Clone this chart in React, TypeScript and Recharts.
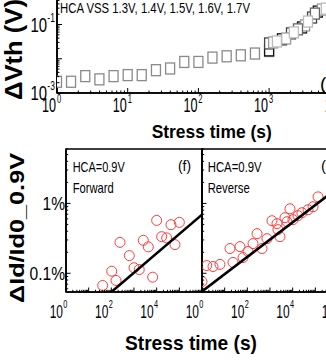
import React from 'react';
import { ScatterChart, Scatter, XAxis, YAxis, ReferenceArea } from 'recharts';

// ---------- Top panel (a): ΔVth vs stress time ----------
const TOP_T = [1, 1.58, 2.51, 3.98, 6.31, 10, 15.8, 25.1, 39.8, 63.1, 100, 158, 251, 398, 631, 1000];
const TOP_V = [0.00213, 0.00213, 0.00311, 0.0025, 0.00311, 0.00333, 0.00333, 0.00464, 0.0052, 0.00807, 0.00807, 0.0108, 0.0118, 0.0126, 0.0142, 0.0168];
const VSS2_T = [1000, 2040, 4050];
const VSS2_V = [0.028, 0.055, 0.16];
const VSS3_T = [1000, 1520, 2920, 4890];
const VSS3_V = [0.0176, 0.037, 0.082, 0.238];
const VSS4_T = [1140, 1740, 3230, 5580];
const VSS4_V = [0.03, 0.039, 0.094, 0.272];
const VSS5_T = [1290, 2240, 3550, 6350];
const VSS5_V = [0.032, 0.059, 0.122, 0.291];
const VSS6_T = [2560, 4450];
const VSS6_V = [0.072, 0.208];

const TOP_X_TICKS = [1, 10, 100, 1000, 10000];
const TOP_X_EXP = ['0', '1', '2', '3', '4'];
const TOP_Y_TICKS = [0.001, 0.1];
const TOP_Y_EXP = ['-3', '-1'];

// ---------- Bottom panels (f) forward, (g) reverse ----------
const F_T = [10000, 100000, 42700, 16600, 27600, 64300, 241, 2570, 4270, 620, 1000, 1700, 104, 161, 41.5, 6660];
const F_V = [0.571, 0.535, 0.496, 0.334, 0.321, 0.257, 0.277, 0.296, 0.239, 0.179, 0.12, 0.113, 0.107, 0.079, 0.067, 0.088];
const FIT_F_T = [107, 1000000];
const FIT_F_V = [0.055, 0.69];

const G_T = [1.61, 3.06, 6.2, 23.3, 1, 17.2, 47.4, 107, 64.4, 178, 268, 443, 735, 1220, 2030, 2250, 2760, 4580, 5630, 7600, 10300, 17100, 25700, 47600, 79000, 132000];
const G_V = [0.129, 0.125, 0.134, 0.143, 0.076, 0.226, 0.241, 0.205, 0.168, 0.266, 0.369, 0.226, 0.313, 0.565, 0.513, 0.421, 0.334, 0.624, 0.547, 0.837, 0.585, 0.667, 0.735, 0.811, 0.895, 1.24];
const FIT_G_T = [1, 1000000];
const FIT_G_V = [0.055, 1.68];

const F_X_TICKS = [1, 100, 10000];
const F_X_EXP = ['0', '2', '4'];
const G_X_TICKS = [1, 100, 10000, 1000000];
const G_X_EXP = ['0', '2', '4', '6'];
const BOT_Y_TICKS = [0.1, 1];
const BOT_Y_LABELS = ['0.1%', '1%'];

const FONT = "'Liberation Sans', Arial, sans-serif";

const zip = (t: number[], v: number[]) => t.map((x, i) => ({ t: x, v: v[i] }));

const logTicks = (lo: number, hi: number) => {
  const out: number[] = [];
  for (let e = Math.floor(Math.log10(lo) + 1e-9); e <= Math.ceil(Math.log10(hi) - 1e-9); e++) {
    for (let m = 1; m < 10; m++) {
      const val = m * Math.pow(10, e);
      if (val >= lo * 0.9999 && val <= hi * 1.0001) out.push(val);
    }
  }
  return out;
};
const isMajor = (v: number) => {
  const e = Math.log10(v);
  return Math.abs(e - Math.round(e)) < 1e-6;
};
const findIdx = (arr: number[], v: number) =>
  arr.findIndex((a) => Math.abs(Math.log10(a) - Math.log10(v)) < 1e-6);

// power-of-ten label drawn as one narrow text: "10" ending at local x=0, exponent after it
const PowLabel = (p: {
  x: number; y: number; sx: number; size: number; supSize: number; supDy: number; supDx: number; exp: string;
}) => (
  <text
    transform={`translate(${p.x},${p.y}) scale(${p.sx},1)`}
    fontFamily={FONT}
    fill="#000"
    fontSize={p.size}
  >
    <tspan x={0} y={0} textAnchor="end">10</tspan>
    <tspan x={p.supDx} y={p.supDy} fontSize={p.supSize} textAnchor="start">{p.exp}</tspan>
  </text>
);

const TopXTick = (props: any) => {
  const { x, y, payload } = props;
  const v = payload.value;
  const idx = findIdx(TOP_X_TICKS, v);
  return (
    <g>
      <line x1={x} x2={x} y1={y} y2={y - (isMajor(v) ? 5 : 2.5)} stroke="#000" strokeWidth={1} />
      {idx >= 0 && (
        <PowLabel x={x - 1} y={y + 19} sx={0.63} size={20} supSize={12} supDy={-9} supDx={1.5} exp={TOP_X_EXP[idx]} />
      )}
    </g>
  );
};

const TopYTick = (props: any) => {
  const { x, y, payload } = props;
  const v = payload.value;
  const idx = findIdx(TOP_Y_TICKS, v);
  return (
    <g>
      <line x1={x} x2={x + (isMajor(v) ? 5 : 2.5)} y1={y} y2={y} stroke="#000" strokeWidth={1} />
      {idx >= 0 && (
        <PowLabel x={x - 10} y={y + 7} sx={0.71} size={21} supSize={12} supDy={-10} supDx={0.5} exp={TOP_Y_EXP[idx]} />
      )}
    </g>
  );
};

const makeBotXTick = (ticks: number[], exps: string[]) => (props: any) => {
  const { x, y, payload } = props;
  const v = payload.value;
  const idx = findIdx(ticks, v);
  return (
    <g>
      <line x1={x} x2={x} y1={y} y2={y - (isMajor(v) ? 4.5 : 2.2)} stroke="#000" strokeWidth={1} />
      {idx >= 0 && (
        <PowLabel x={x - 3} y={y + 26} sx={0.665} size={18} supSize={11} supDy={-10} supDx={0.5} exp={exps[idx]} />
      )}
    </g>
  );
};

const makeBotYTick = (withLabels: boolean) => (props: any) => {
  const { x, y, payload } = props;
  const v = payload.value;
  const idx = withLabels ? findIdx(BOT_Y_TICKS, v) : -1;
  const label = idx >= 0 ? BOT_Y_LABELS[idx] : '';
  return (
    <g>
      <line x1={x} x2={x + (isMajor(v) ? 4.5 : 2.2)} y1={y} y2={y} stroke="#000" strokeWidth={1} />
      {idx >= 0 && (
        <text
          transform={`translate(${x - 1},${y + 6.5}) scale(0.82,1)`}
          textAnchor="end"
          fontFamily={FONT}
          fontSize={19}
          fill="#000"
        >
          {label}
        </text>
      )}
    </g>
  );
};

const squareShape = (color: string) => (p: any) => (
  <rect x={p.cx - 4.5} y={p.cy - 5.5} width={9} height={11} fill="#fff" stroke={color} strokeWidth={1.3} />
);
const circleShape = (p: any) => (
  <circle cx={p.cx} cy={p.cy} r={5} fill="none" stroke="#ff3a3a" strokeWidth={1} />
);
const noShape = () => <g />;

const botXTickF = makeBotXTick(F_X_TICKS, F_X_EXP);
const botXTickG = makeBotXTick(G_X_TICKS, G_X_EXP);
const botYTickF = makeBotYTick(true);
const botYTickG = makeBotYTick(false);

const topXAll = logTicks(1, 10000);
const topYAll = logTicks(0.001, 1);
const botXAll = logTicks(1, 1000000);
const botYAll = logTicks(0.06, 6);

export default function App() {
  return (
    <div
      style={{
        position: 'absolute',
        left: 0,
        top: 0,
        width: 326,
        height: 360,
        overflow: 'hidden',
        background: '#fff',
      }}
    >
      {/* Top panel */}
      <div style={{ position: 'absolute', left: 0, top: -20 }}>
        <ScatterChart width={360} height={170} margin={{ top: 10.25, right: 20.2, bottom: 0, left: 0 }}>
          <XAxis
            type="number"
            dataKey="t"
            scale="log"
            domain={[1, 10000]}
            ticks={topXAll}
            interval={0}
            tickSize={0}
            tickMargin={0}
            tickLine={false}
            axisLine={{ stroke: '#000', strokeWidth: 1.6 }}
            tick={TopXTick}
            height={57}
            allowDataOverflow
          />
          <YAxis
            type="number"
            dataKey="v"
            scale="log"
            domain={[0.001, 1]}
            ticks={topYAll}
            interval={0}
            tickSize={0}
            tickMargin={0}
            tickLine={false}
            axisLine={{ stroke: '#000', strokeWidth: 1.6 }}
            tick={TopYTick}
            width={57}
            allowDataOverflow
          />
          <ReferenceArea x1={1} x2={10000} y1={0.001} y2={1} fill="none" stroke="#000" strokeWidth={1.6} ifOverflow="visible" />
          <Scatter data={zip(TOP_T, TOP_V)} shape={squareShape('#8a8a8a')} isAnimationActive={false} />
          <Scatter data={zip(VSS3_T, VSS3_V)} shape={squareShape('#111')} isAnimationActive={false} />
          <Scatter data={zip(VSS2_T, VSS2_V)} shape={squareShape('#444')} isAnimationActive={false} />
          <Scatter data={zip(VSS4_T, VSS4_V)} shape={squareShape('#999')} isAnimationActive={false} />
          <Scatter data={zip(VSS6_T, VSS6_V)} shape={squareShape('#666')} isAnimationActive={false} />
          <Scatter data={zip(VSS5_T, VSS5_V)} shape={squareShape('#bbb')} isAnimationActive={false} />
        </ScatterChart>
      </div>

      {/* Bottom-left panel (f) */}
      <div style={{ position: 'absolute', left: 0, top: 140 }}>
        <ScatterChart width={210} height={220} margin={{ top: 9, right: 8, bottom: 0, left: 0 }}>
          <XAxis
            type="number"
            dataKey="t"
            scale="log"
            domain={[1, 1000000]}
            ticks={botXAll}
            interval={0}
            tickSize={0}
            tickMargin={0}
            tickLine={false}
            axisLine={{ stroke: '#000', strokeWidth: 1.6 }}
            tick={botXTickF}
            height={68}
            allowDataOverflow
          />
          <YAxis
            type="number"
            dataKey="v"
            scale="log"
            domain={[0.054, 6]}
            ticks={botYAll}
            interval={0}
            tickSize={0}
            tickMargin={0}
            tickLine={false}
            axisLine={{ stroke: '#000', strokeWidth: 1.6 }}
            tick={botYTickF}
            width={66}
            allowDataOverflow
          />
          <ReferenceArea x1={1} x2={1000000} y1={0.054} y2={6} fill="none" stroke="#000" strokeWidth={1.6} ifOverflow="visible" />
          <Scatter data={zip(F_T, F_V)} shape={circleShape} isAnimationActive={false} />
          <Scatter
            data={zip(FIT_F_T, FIT_F_V)}
            shape={noShape}
            line={{ stroke: '#000', strokeWidth: 2.6 }}
            isAnimationActive={false}
          />
        </ScatterChart>
      </div>

      {/* Bottom-right panel (g) */}
      <div style={{ position: 'absolute', left: 176, top: 140 }}>
        <ScatterChart width={170} height={220} margin={{ top: 9, right: 8, bottom: 0, left: 0 }}>
          <XAxis
            type="number"
            dataKey="t"
            scale="log"
            domain={[1, 1000000]}
            ticks={botXAll}
            interval={0}
            tickSize={0}
            tickMargin={0}
            tickLine={false}
            axisLine={{ stroke: '#000', strokeWidth: 1.6 }}
            tick={botXTickG}
            height={68}
            allowDataOverflow
          />
          <YAxis
            type="number"
            dataKey="v"
            scale="log"
            domain={[0.054, 6]}
            ticks={botYAll}
            interval={0}
            tickSize={0}
            tickMargin={0}
            tickLine={false}
            axisLine={{ stroke: '#000', strokeWidth: 1.6 }}
            tick={botYTickG}
            width={26}
            allowDataOverflow
          />
          <ReferenceArea x1={1} x2={1000000} y1={0.054} y2={6} fill="none" stroke="#000" strokeWidth={1.6} ifOverflow="visible" />
          <Scatter data={zip(G_T, G_V)} shape={circleShape} isAnimationActive={false} />
          <Scatter
            data={zip(FIT_G_T, FIT_G_V)}
            shape={noShape}
            line={{ stroke: '#000', strokeWidth: 2.6 }}
            isAnimationActive={false}
          />
        </ScatterChart>
      </div>

      {/* Titles and annotations */}
      <svg
        width={326}
        height={360}
        style={{ position: 'absolute', left: 0, top: 0, pointerEvents: 'none' }}
        fontFamily={FONT}
      >
        <text x={60} y={13.3} fontSize={14} textLength={190} lengthAdjust="spacingAndGlyphs">
          HCA VSS 1.3V, 1.4V, 1.5V, 1.6V, 1.7V
        </text>
        <text x={320} y={90} fontSize={19}>(a)</text>
        <text
          transform="translate(22,100) rotate(-90)"
          fontSize={23}
          fontWeight="bold"
          textLength={101}
          lengthAdjust="spacingAndGlyphs"
        >
          ΔVth (V)
        </text>
        <text x={151.7} y={137.5} fontSize={18} fontWeight="bold" textLength={120} lengthAdjust="spacingAndGlyphs">
          Stress time (s)
        </text>
        <text
          transform="translate(24,303) rotate(-90)"
          fontSize={21}
          fontWeight="bold"
          textLength={150}
          lengthAdjust="spacingAndGlyphs"
        >
          ΔId/Id0_0.9V
        </text>
        <text x={125} y={350} fontSize={21} fontWeight="bold" textLength={132} lengthAdjust="spacingAndGlyphs">
          Stress time (s)
        </text>
        <text x={72.7} y={171.5} fontSize={15} textLength={52} lengthAdjust="spacingAndGlyphs">HCA=0.9V</text>
        <text x={72.7} y={193} fontSize={15} textLength={41} lengthAdjust="spacingAndGlyphs">Forward</text>
        <text x={178} y={171} fontSize={15} textLength={13} lengthAdjust="spacingAndGlyphs">(f)</text>
        <text x={207.7} y={171.5} fontSize={15} textLength={54} lengthAdjust="spacingAndGlyphs">HCA=0.9V</text>
        <text x={207.7} y={193} fontSize={15} textLength={42} lengthAdjust="spacingAndGlyphs">Reverse</text>
        <text x={321} y={171} fontSize={15}>(g)</text>
      </svg>
    </div>
  );
}
